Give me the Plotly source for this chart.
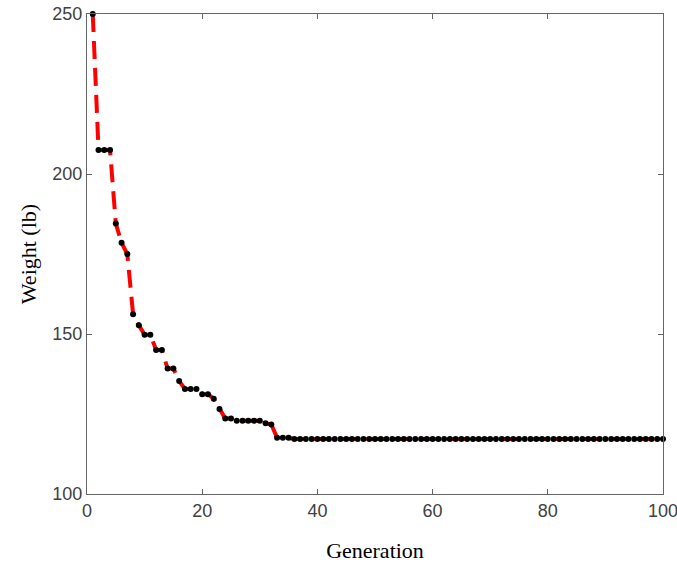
import plotly.graph_objects as go

# generations 1..100 and best weight per generation (lb)
generation = list(range(1, 101))
weight = ([250.0]
          + [207.5] * 3
          + [184.5, 178.5, 175.0, 156.2, 152.7]
          + [149.8] * 2
          + [145.0] * 2
          + [139.2] * 2
          + [135.3]
          + [132.8] * 3
          + [131.2] * 2
          + [129.8, 126.6]
          + [123.6] * 2
          + [122.9] * 5
          + [122.1, 121.7]
          + [117.6] * 3
          + [117.2] * 65)

x_ticks = [0, 20, 40, 60, 80, 100]
y_ticks = [100, 150, 200, 250]

fig = go.Figure()
fig.add_trace(go.Scatter(
    x=generation, y=weight, mode="lines+markers",
    line=dict(color="#ff0000", width=4, dash="18px,9px"),
    marker=dict(color="black", size=6),
    cliponaxis=False,
    showlegend=False,
))

axis_style = dict(
    showline=True, linecolor="#666666", linewidth=1.2, mirror="ticks",
    ticks="inside", ticklen=5, tickcolor="#666666", showgrid=False, zeroline=False,
    automargin=False, ticklabeloverflow="allow",
    tickfont=dict(family="Liberation Sans, Arial", size=18, color="#404040"),
)

title_font = dict(family="Liberation Serif, Times New Roman", size=22, color="black")
fig.update_xaxes(range=[0, 100], tickvals=x_ticks,
                 title=dict(text="Generation", font=title_font, standoff=22),
                 **axis_style)
fig.update_yaxes(range=[100, 250], tickvals=y_ticks,
                 title=dict(text="Weight (lb)", font=title_font, standoff=9),
                 **axis_style)

fig.update_layout(
    width=677, height=565,
    margin=dict(l=87, r=14, t=14, b=71),
    plot_bgcolor="white", paper_bgcolor="white",
)

# drop the default 8px body margin so the figure fills the window
fig.write_html("out.html", config={"displayModeBar": False},
               post_script="document.body.style.margin='0';")
